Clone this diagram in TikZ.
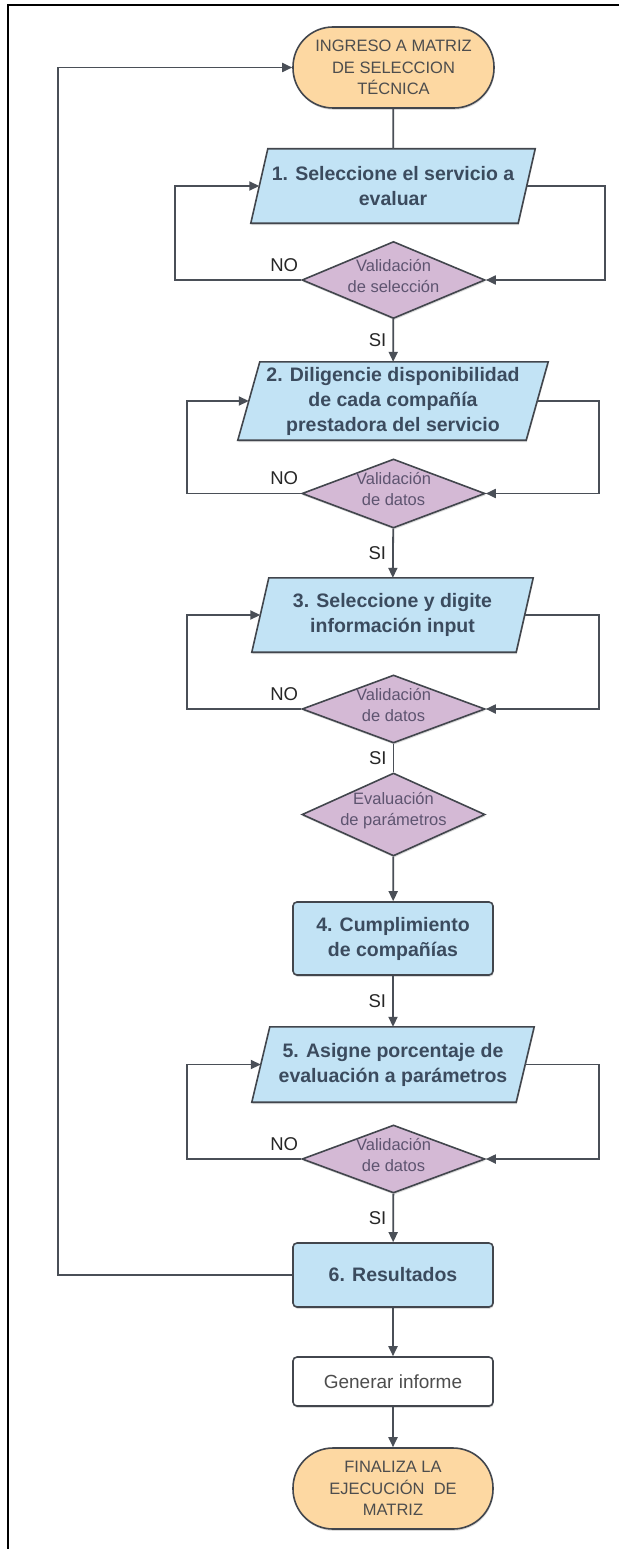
\documentclass[tikz,border=0pt]{standalone}
\usepackage{fontspec}
\setmainfont{Liberation Sans}
\usetikzlibrary{arrows.meta,shapes.geometric,backgrounds,shadows}

\definecolor{orfill}{HTML}{FDD8A2}
\definecolor{bluefill}{HTML}{C2E3F5}
\definecolor{purfill}{HTML}{D4B9D5}
\definecolor{edge}{HTML}{42464D}
\definecolor{wire}{HTML}{4A4F57}
\definecolor{boldtext}{HTML}{3B4B5E}
\definecolor{termtext}{HTML}{4D4D4D}
\definecolor{dectext}{HTML}{5E5470}

\tikzset{
  softshadow/.style={drop shadow={shadow xshift=0.6pt,shadow yshift=-1.8pt,opacity=0.14,fill=black}},
  term/.style={rectangle,rounded corners=40pt,minimum width=201pt,minimum height=81pt,
    inner sep=0pt,fill=orfill,draw=edge,line width=1.6pt,align=center,text=termtext,
    font=\fontsize{16.5}{21.5}\selectfont,softshadow},
  parabox/.style={rectangle,inner sep=0pt,align=center,text=boldtext,
    font=\bfseries\fontsize{19.5}{25}\selectfont},
  parafill/.style={fill=bluefill,draw=edge,line width=1.6pt,line join=miter,softshadow},
  dec/.style={diamond,minimum width=183pt,inner sep=0pt,fill=purfill,draw=edge,
    line width=1.6pt,softshadow},
  dtext/.style={align=center,text=dectext,inner sep=0pt,yshift=4pt,
    font=\fontsize{16.5}{21}\selectfont},
  stepbox/.style={rectangle,rounded corners=4pt,minimum width=200pt,inner sep=0pt,
    fill=bluefill,draw=edge,line width=1.6pt,align=center,text=boldtext,
    font=\bfseries\fontsize{19.5}{25}\selectfont,softshadow},
  plainbox/.style={rectangle,rounded corners=4pt,minimum width=200pt,minimum height=49pt,
    inner sep=0pt,fill=white,draw=edge,line width=1.6pt,text=termtext,
    font=\fontsize{19}{23}\selectfont,softshadow},
  wireline/.style={draw=wire,line width=1.8pt},
  arr/.style={wireline,-{Triangle[length=10pt,width=9pt]}},
  lbl/.style={inner sep=0pt,text=black!85,font=\fontsize{18.5}{22}\selectfont},
  si/.style={lbl,midway,anchor=east,xshift=-6pt},
  frame/.style={draw=black,line width=2pt}
}

% slanted outline drawn behind a parallelogram step
\newcommand\slantbox[2]{%
  \begin{scope}[on background layer]
    \path[parafill] ([xshift=#2]#1.north west) -- ([xshift=#2]#1.north east)
      -- ([xshift=-#2]#1.south east) -- ([xshift=-#2]#1.south west) -- cycle;
  \end{scope}}

\begin{document}
\begin{tikzpicture}[x=1pt,y=-1pt]
\useasboundingbox (0,0) rectangle (619,1549);
\begin{scope}[on background layer]
  \fill[white] (0,0) rectangle (619,1549);
\end{scope}
\draw[frame] (619,5) -- (8,5) -- (8,1549);

% loop rails and feedback rail
\coordinate (fb) at (58,0);
\coordinate (la) at (175,0);
\coordinate (ra) at (605,0);
\coordinate (lb) at (187,0);
\coordinate (rb) at (599,0);

% nodes
\node[term] (start) at (393.5,67.5) {INGRESO A MATRIZ\\DE SELECCION\\TÉCNICA};

\node[parabox,minimum width=267pt,minimum height=74pt] (p1) at (393,186)
  {1. Seleccione el servicio a\\evaluar};
\slantbox{p1}{8.5pt}
\node[dec,minimum height=77pt,label={[dtext]center:Validación\\de selección}] (d1) at (393.5,280) {};

\node[parabox,minimum width=288pt,minimum height=78pt] (p2) at (393,401)
  {2. Diligencie disponibilidad\\de cada compañía\\prestadora del servicio};
\slantbox{p2}{11pt}
\node[dec,minimum height=69pt,label={[dtext]center:Validación\\de datos}] (d2) at (393.5,493.5) {};

\node[parabox,minimum width=264pt,minimum height=74pt] (p3) at (392.5,615)
  {3. Seleccione y digite\\información input};
\slantbox{p3}{8.5pt}
\node[dec,minimum height=68pt,label={[dtext]center:Validación\\de datos}] (d3) at (393.5,709) {};

\node[dec,minimum height=83pt,label={[dtext]center:Evaluación\\de parámetros}] (d4) at (393.5,814.5) {};

\node[stepbox,minimum height=73pt] (b4) at (393,938.5) {4. Cumplimiento\\de compañías};

\node[parabox,minimum width=264pt,minimum height=75pt] (p5) at (393,1064.5)
  {5. Asigne porcentaje de\\evaluación a parámetros};
\slantbox{p5}{9pt}
\node[dec,minimum height=68pt,label={[dtext]center:Validación\\de datos}] (d5) at (393.5,1159) {};

\node[stepbox,minimum height=64pt] (b6) at (393,1275) {6. Resultados};
\node[plainbox] (gen) at (393,1381.5) {Generar informe};
\node[term,minimum width=200pt] (end) at (393,1488.5) {FINALIZA LA\\EJECUCIÓN\ \ DE\\MATRIZ};

% main flow
\draw[wireline] (start) -- (p1);
\draw[arr] (d1) -- node[si] {SI} (p2);
\draw[arr] (d2) -- node[si] {SI} (p3);
\draw[wireline] (d3) -- node[si] {SI} (d4);
\draw[arr] (d4) -- (b4);
\draw[arr] (b4) -- node[si] {SI} (p5);
\draw[arr] (d5) -- node[si] {SI} (b6);
\draw[arr] (b6) -- (gen);
\draw[arr] (gen) -- (end);

% validation loops
\draw[arr] (p1.east) -- (p1.east -| ra) |- (d1.east);
\draw[arr] (d1.west) -- (d1.west -| la) |- (p1.west);
\node[lbl,anchor=south east] (no1) at ([xshift=-3pt,yshift=8.5pt]d1.west) {NO};

\draw[arr] (p2.east) -- (p2.east -| rb) |- (d2.east);
\draw[arr] (d2.west) -- (d2.west -| lb) |- (p2.west);
\node[lbl,anchor=south east] (no2) at ([xshift=-3pt,yshift=8.5pt]d2.west) {NO};

\draw[arr] (p3.east) -- (p3.east -| rb) |- (d3.east);
\draw[arr] (d3.west) -- (d3.west -| lb) |- (p3.west);
\node[lbl,anchor=south east] (no3) at ([xshift=-3pt,yshift=8.5pt]d3.west) {NO};

\draw[arr] (p5.east) -- (p5.east -| rb) |- (d5.east);
\draw[arr] (d5.west) -- (d5.west -| lb) |- (p5.west);
\node[lbl,anchor=south east] (no5) at ([xshift=-3pt,yshift=8.5pt]d5.west) {NO};

% return to the start
\draw[arr] (b6.west) -- (b6.west -| fb) |- (start.west);
\end{tikzpicture}
\end{document}
